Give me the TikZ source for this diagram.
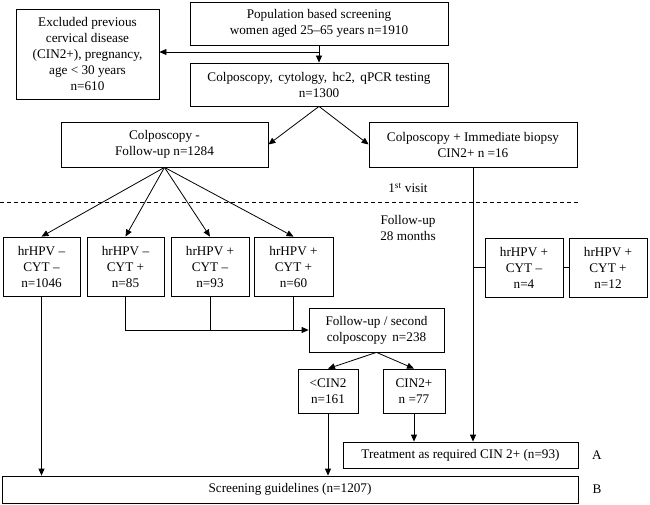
\documentclass[tikz,border=0pt]{standalone}
\usepackage{fontspec}
\setmainfont{Liberation Serif}
\usepackage{tikz}
\usetikzlibrary{arrows.meta}

\begin{document}
\begin{tikzpicture}[x=1pt,y=-1pt,
	box/.style={draw,line width=0.8pt,align=center,inner sep=1pt,font=\fontsize{13.2}{16}\selectfont},
	label/.style={align=center,font=\fontsize{13.2}{16}\selectfont},
	flow/.style={line width=0.8pt,-{Triangle[length=7pt,width=6pt]}},
	link/.style={line width=0.8pt}]
	\useasboundingbox (0,0) rectangle (650,505);

	% first visit
	\node[box,minimum width=258,minimum height=43] (pop) at (319,23.5) {Population based screening\\women aged 25--65 years n=1910};
	\node[box,minimum width=143,minimum height=90] (excl) at (87.5,54) {Excluded previous\\cervical disease\\(CIN2+), pregnancy,\\age < 30 years\\n=610};
	\node[box,minimum width=258,minimum height=43] (colpo) at (319,84.5) {Colposcopy,\, cytology,\, hc2,\, qPCR testing\\n=1300};
	\node[box,minimum width=207,minimum height=45] (fu) at (164.5,144.5) {Colposcopy -\\Follow-up n=1284};
	\node[box,minimum width=208,minimum height=45] (imm) at (473,144.5) {Colposcopy + Immediate biopsy\\CIN2+ n =16};

	\coordinate (br) at (319,52);
	\draw[flow] (pop.south) -- (colpo.north);
	\draw[flow] (br) -- (br -| excl.east);
	\draw[flow] (colpo.south) -- (fu.east);
	\draw[flow] (colpo.south) -- (imm.west);

	\coordinate (dl) at (0,202);
	\coordinate (dr) at (578,202);
	\draw[dashed,line width=0.8pt,dash pattern=on 4pt off 3pt] (dl) -- (dr);
	\node[label] (visit) at (408,188) {1\textsuperscript{st} visit};
	\node[label] (months) at (408,228) {Follow-up\\28 months};

	% follow-up
	\node[box,minimum width=77,minimum height=59] (h1) at (41.5,266.5) {hrHPV --\\CYT --\\n=1046};
	\node[box,minimum width=77,minimum height=59] (h2) at (125.5,266.5) {hrHPV --\\CYT +\\n=85};
	\node[box,minimum width=78,minimum height=59] (h3) at (210,266.5) {hrHPV +\\CYT --\\n=93};
	\node[box,minimum width=79,minimum height=59] (h4) at (293.5,266.5) {hrHPV +\\CYT +\\n=60};
	\node[box,minimum width=78,minimum height=59] (r1) at (524,267.5) {hrHPV +\\CYT --\\n=4};
	\node[box,minimum width=78,minimum height=59] (r2) at (608,267.5) {hrHPV +\\CYT +\\n=12};

	\foreach \b in {h1,h2,h3,h4}
		\draw[flow] (fu.south) -- (\b.north);

	\node[box,minimum width=135,minimum height=44] (fu2) at (376.5,330) {Follow-up / second\\colposcopy\, n=238};
	\node[box,minimum width=60,minimum height=44] (lo) at (328,391) {<CIN2\\n=161};
	\node[box,minimum width=62,minimum height=44] (hi) at (414,391) {CIN2+\\n =77};

	\draw[flow] (h2.south) |- (fu2.west);
	\draw[link] (h3.south) -- (h3.south |- fu2.west);
	\draw[link] (h4.south) -- (h4.south |- fu2.west);
	\draw[flow] (fu2.south) -- (lo.north);
	\draw[flow] (fu2.south) -- (hi.north);

	% outcome
	\node[box,minimum width=235,minimum height=26] (treat) at (460.5,455) {Treatment as required CIN 2+ (n=93)};
	\node[box,minimum width=576,minimum height=27] (scr) at (290,489.5) {Screening guidelines (n=1207)};
	\node[label] (A) at (597,455) {A};
	\node[label] (B) at (597,489.5) {B};

	\draw[flow] (imm.south) -- (imm.south |- treat.north);
	\draw[link] (imm.south |- r1.west) -- (r1.west);
	\draw[link] (r1.east) -- (r2.west);
	\draw[flow] (hi.south) -- (hi.south |- treat.north);
	\draw[flow] (lo.south) -- (lo.south |- scr.north);
	\draw[flow] (h1.south) -- (h1.south |- scr.north);
\end{tikzpicture}
\end{document}
